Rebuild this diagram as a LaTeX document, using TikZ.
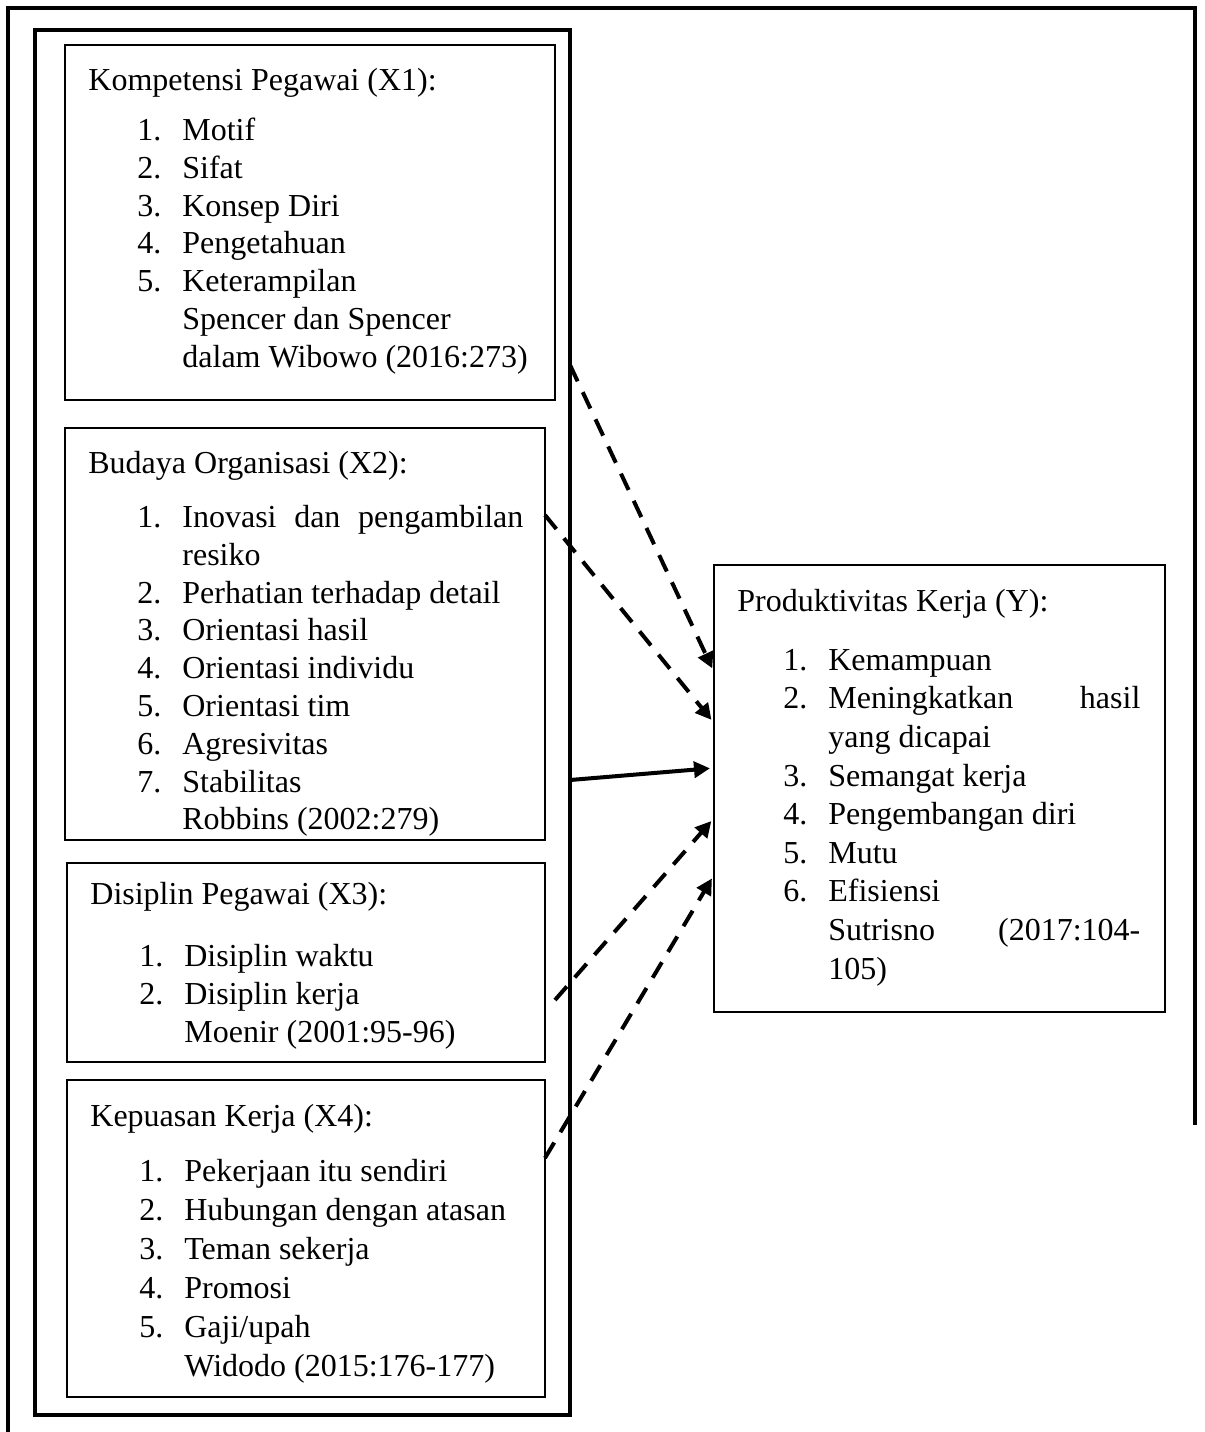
\documentclass[tikz,border=0pt]{standalone}
\usepackage{fontspec}
\setmainfont{Liberation Serif}
\usetikzlibrary{arrows.meta,positioning}

\newcommand{\butir}[1]{\hspace*{24.5pt}\makebox[22.5pt][l]{#1}}

\begin{document}
\begin{tikzpicture}[
  x=0.5pt,y=-0.5pt,
  bx/.style={draw,line width=1pt,inner sep=0pt,outer sep=0pt,anchor=north west},
  isi/.style={inner sep=0pt,anchor=north west,align=left,
              font=\fontsize{16}{18.9}\selectfont},
  panah/.style={line width=2pt,-{Triangle[length=8pt,width=8pt]},shorten >=2pt}
]
  \useasboundingbox (0,0) rectangle (1205,1432);
  % bingkai luar, bawahnya terbuka
  \draw[line width=2pt] (8,1432) -- (8,8) -- (1195,8) -- (1195,1125);

  \node[bx,line width=2pt,minimum width=267.5pt,minimum height=692.5pt] (bebas) at (35,30) {};
  \node[bx,minimum width=245pt,minimum height=177.5pt] (x1) at (65,45)   {};
  \node[bx,minimum width=240pt,minimum height=206pt]   (x2) at (65,428)  {};
  \node[bx,minimum width=239pt,minimum height=99.5pt]  (x3) at (67,863)  {};
  \node[bx,minimum width=239pt,minimum height=158.5pt] (x4) at (67,1080) {};
  \node[bx,minimum width=225.5pt,minimum height=223.5pt] (y) at (714,565) {};

  \node[isi] (x1t) at ([xshift=11.5pt,yshift=-11.5pt]x1.north west) {%
    Kompetensi Pegawai (X1):\\[6pt]
    \butir{1.}Motif\\
    \butir{2.}Sifat\\
    \butir{3.}Konsep Diri\\
    \butir{4.}Pengetahuan\\
    \butir{5.}Keterampilan\\
    \butir{}Spencer dan Spencer\\
    \butir{}dalam Wibowo (2016:273)};
  \node[isi] (x2t) at ([xshift=11.5pt,yshift=-11.5pt]x2.north west) {%
    Budaya Organisasi (X2):\\[8pt]
    \butir{1.}\makebox[170.5pt][s]{Inovasi dan pengambilan}\\
    \butir{}resiko\\
    \butir{2.}Perhatian terhadap detail\\
    \butir{3.}Orientasi hasil\\
    \butir{4.}Orientasi individu\\
    \butir{5.}Orientasi tim\\
    \butir{6.}Agresivitas\\
    \butir{7.}Stabilitas\\
    \butir{}Robbins (2002:279)};
  \node[isi] (x3t) at ([xshift=11.5pt,yshift=-9.5pt]x3.north west) {%
    Disiplin Pegawai (X3):\\[12pt]
    \butir{1.}Disiplin waktu\\
    \butir{2.}Disiplin kerja\\
    \butir{}Moenir (2001:95-96)};
  \node[isi,font=\fontsize{16}{19.5}\selectfont] (x4t) at ([xshift=11.5pt,yshift=-12pt]x4.north west) {%
    Kepuasan Kerja (X4):\\[8pt]
    \butir{1.}Pekerjaan itu sendiri\\
    \butir{2.}Hubungan dengan atasan\\
    \butir{3.}Teman sekerja\\
    \butir{4.}Promosi\\
    \butir{5.}Gaji/upah\\
    \butir{}Widodo (2015:176-177)};
  \node[isi,font=\fontsize{16}{19.3}\selectfont] (yt) at ([xshift=11.5pt,yshift=-12pt]y.north west) {%
    Produktivitas Kerja (Y):\\[10pt]
    \hspace*{-1.5pt}\butir{1.}Kemampuan\\
    \hspace*{-1.5pt}\butir{2.}\makebox[156pt][s]{Meningkatkan hasil}\\
    \hspace*{-1.5pt}\butir{}yang dicapai\\
    \hspace*{-1.5pt}\butir{3.}Semangat kerja\\
    \hspace*{-1.5pt}\butir{4.}Pengembangan diri\\
    \hspace*{-1.5pt}\butir{5.}Mutu\\
    \hspace*{-1.5pt}\butir{6.}Efisiensi\\
    \hspace*{-1.5pt}\butir{}\makebox[156pt][s]{Sutrisno (2017:104-}\\
    \hspace*{-1.5pt}\butir{}105)};

  \draw[panah,dash pattern=on 9pt off 6pt] ([yshift=-167.5pt]bebas.north east) -- ([yshift=-53.5pt]y.north west);
  \draw[panah,dash pattern=on 9pt off 6pt] ([yshift=-43.5pt]x2.north east) -- ([yshift=-79pt]y.north west);
  \draw[panah] ([yshift=-375pt]bebas.north east) -- ([yshift=-101.5pt]y.north west);
  \draw[panah,dash pattern=on 9pt off 6pt] ([xshift=5pt,yshift=-68.5pt]x3.north east) -- ([yshift=-126.5pt]y.north west);
  \draw[panah,dash pattern=on 9pt off 6pt] ([yshift=-39pt]x4.north east) -- ([yshift=-155pt]y.north west);
\end{tikzpicture}
\end{document}
